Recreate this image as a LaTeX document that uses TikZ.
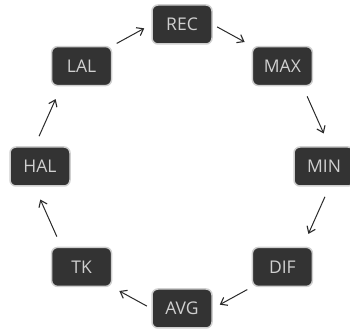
\documentclass[tikz,border=0pt]{standalone}
\usepackage{fontspec}
\setmainfont{Open Sans}
\usetikzlibrary{arrows.meta}
\definecolor{boxfill}{HTML}{333333}
\definecolor{boxline}{HTML}{CFCFCF}
\definecolor{boxtext}{HTML}{D0D0D0}
\definecolor{arrowcol}{HTML}{2A2A2A}
\begin{document}
\begin{tikzpicture}[x=1pt,y=1pt]

\tikzset{stage/.style={draw=boxline,line width=1.5pt,fill=boxfill,rounded corners=6pt,
    minimum width=60pt,minimum height=39pt,inner sep=0pt,text=boxtext,
    font=\fontsize{17.5}{20}\selectfont}}
\tikzset{flow/.style={draw=arrowcol,line width=1pt,
    -{Straight Barb[length=6pt,width=9pt,line width=1.1pt]},
    shorten <=5pt,shorten >=8pt}}
\tikzset{drop/.style={flow,shorten <=11pt,shorten >=14pt}}

\useasboundingbox (0,0) rectangle (350,331);

\coordinate (mid) at (182,164.5);

\foreach \n/\a in {REC/90,MAX/45,MIN/0,DIF/-45,AVG/-90,TK/-135,HAL/180,LAL/135}
  \node[stage] (\n) at ([shift={(\a:142)}]mid) {\n};

\draw[flow] (LAL.north east) -- (REC.west);
\draw[flow] (REC.east) -- (MAX.north west);
\draw[drop] (MAX.-45) -- (MIN.75);
\draw[drop] (MIN.-75) -- (DIF.45);
\draw[flow] (DIF.south west) -- (AVG.east);
\draw[flow] (AVG.west) -- (TK.south east);
\draw[drop] (TK.135) -- (HAL.-105);
\draw[drop] (HAL.105) -- (LAL.-135);

\end{tikzpicture}
\end{document}
